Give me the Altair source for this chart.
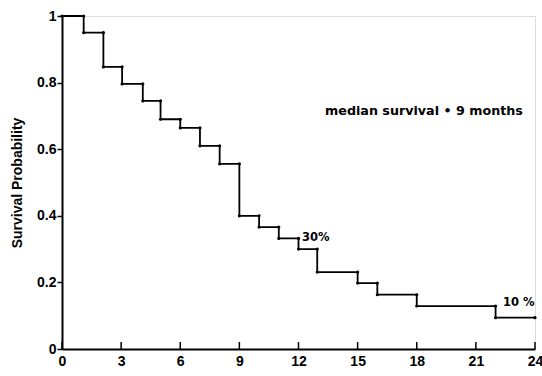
import altair as alt
import pandas as pd

# Kaplan-Meier step estimates
times = [0, 1.1, 2.1, 3.05, 4.1, 5.0, 6.0, 7.0, 8.0, 9.0, 10.0, 11.0, 12.0, 12.95, 15.0, 16.0, 18.0, 22.0, 24.0]
surv = [1.0, 0.95, 0.847, 0.796, 0.745, 0.69, 0.664, 0.61, 0.556, 0.40, 0.366, 0.332, 0.30, 0.231, 0.198, 0.163, 0.129, 0.094, 0.094]

x_ticks = [0, 3, 6, 9, 12, 15, 18, 21, 24]
y_ticks = [0, 0.2, 0.4, 0.6, 0.8, 1.0]

ann_text = ["median survival • 9 months", "30%", "10 %"]
ann_x = [13.35, 12.18, 22.38]
ann_y = [0.715, 0.333, 0.138]
ann_size = [12.7, 11.5, 11.5]

line_df = pd.DataFrame({"t": times, "s": surv})
pts = []
for i in range(len(times) - 1):
    pts.append({"t": times[i], "s": surv[i]})
    pts.append({"t": times[i + 1], "s": surv[i]})
pts_df = pd.DataFrame(pts)
ticks_df = pd.DataFrame({"t": x_ticks})
ann_df = pd.DataFrame({"label": ann_text, "t": ann_x, "s": ann_y, "fs": ann_size})

FONT = "Liberation Sans"

xs = alt.Scale(domain=[0, 24], nice=False, zero=False)
ys = alt.Scale(domain=[0, 1], nice=False)

base_x = alt.X("t:Q", scale=xs, axis=alt.Axis(values=x_ticks, title=None, tickSize=0,
                                               labelFont=FONT, labelFontSize=14, labelFontWeight="bold",
                                               labelColor="black", domainColor="black", domainWidth=2,
                                               grid=False, labelPadding=5, labelFlush=False))
base_y = alt.Y("s:Q", scale=ys, axis=alt.Axis(values=y_ticks, title="Survival Probability",
                                               format="~g", labelFont=FONT, labelFontSize=14,
                                               labelFontWeight="bold", labelColor="black",
                                               titleFont=FONT, titleFontSize=14, titleFontWeight="bold",
                                               titleColor="black", domainColor="black", domainWidth=2,
                                               tickColor="black", tickSize=5, tickWidth=1.5,
                                               grid=False, titlePadding=12, labelPadding=1))

line = alt.Chart(line_df).mark_line(interpolate="step-after", color="black", strokeWidth=1.8).encode(
    x=base_x, y=base_y)

dots = alt.Chart(pts_df).mark_point(filled=True, color="black", size=10, opacity=1).encode(
    x=alt.X("t:Q", scale=xs), y=alt.Y("s:Q", scale=ys))

ticks = alt.Chart(ticks_df).mark_rule(color="black", strokeWidth=1.5).encode(
    x=alt.X("t:Q", scale=xs), y=alt.value(333), y2=alt.value(326))

ann = alt.Chart(ann_df).mark_text(align="left", baseline="middle", font="DejaVu Sans",
                                  fontWeight="bold", color="black").encode(
    x=alt.X("t:Q", scale=xs), y=alt.Y("s:Q", scale=ys), text="label:N",
    size=alt.Size("fs:Q", scale=None, legend=None))

chart = alt.layer(line, dots, ticks, ann).properties(
    width=473, height=333,
    autosize=alt.AutoSizeParams(type="none"),
    padding={"left": 62, "top": 16, "right": 7, "bottom": 27},
).configure_view(stroke=None).configure(background="white")

chart.save("out.html", embed_options={"renderer": "svg", "actions": False})
